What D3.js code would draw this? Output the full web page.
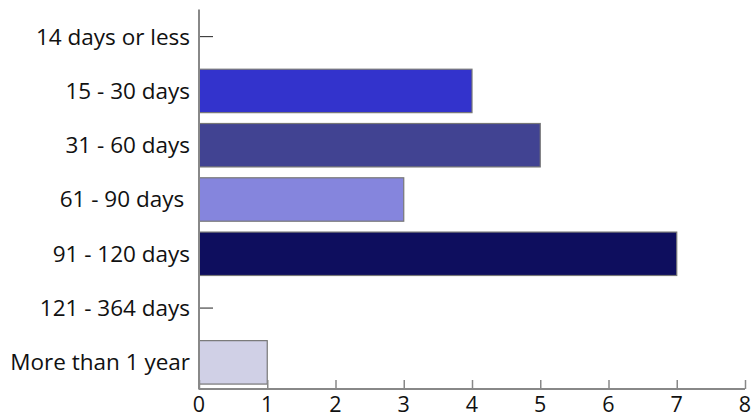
<!DOCTYPE html>
<html><head><meta charset="utf-8">
<script src="https://cdn.jsdelivr.net/npm/d3@7"></script>
<style>body{margin:0;background:#fff}svg{display:block}</style>
</head><body><svg id="c" width="754" height="418"></svg>
<script>
const categories = ["14 days or less","15 - 30 days","31 - 60 days","61 - 90 days ","91 - 120 days","121 - 364 days","More than 1 year"];
const values = [0,4,5,3,7,0,1];
const colors = ["#3333cc","#3333cc","#414392","#8585dd","#0e0e5e","#8585dd","#d0d0e6"];
const xTicks = [0,1,2,3,4,5,6,7,8];

const svg = d3.select("#c");
const x = d3.scaleLinear().domain([0,8]).range([199,745]);
const y = d3.scaleBand().domain(categories).range([9.5,389.5]).paddingInner(0.2).paddingOuter(0.1);

const font = "'Open Sans', sans-serif";
const fs = 22.5;

// y axis ticks (behind bars)
const ya = svg.append("g").attr("transform", `translate(${x(0)},0)`)
  .call(d3.axisRight(y).tickSize(14).tickFormat(""));
ya.select(".domain").remove();
ya.selectAll(".tick line").attr("stroke","#222").attr("stroke-width",1);
ya.selectAll(".tick text").remove();

svg.selectAll("rect.bar").data(categories).join("rect")
  .attr("class","bar")
  .attr("x", x(0))
  .attr("y", d => y(d))
  .attr("width", (d,i) => x(values[i]) - x(0))
  .attr("height", y.bandwidth())
  .attr("fill", (d,i) => colors[i])
  .attr("stroke", "#777")
  .attr("stroke-width", 1.2)
  .attr("display", (d,i) => values[i] > 0 ? null : "none");

// y axis line
svg.append("path").attr("stroke","#888").attr("stroke-width",2).attr("fill","none")
  .attr("d", `M${x(0)},${y.range()[0]}V${y.range()[1]}`);

svg.selectAll("text.cat").data(categories).join("text")
  .attr("class","cat")
  .attr("x", 190)
  .attr("y", d => y(d) + y.bandwidth()/2)
  .attr("dy","0.35em")
  .attr("text-anchor","end")
  .style("white-space","pre")
  .attr("font-family", font)
  .attr("font-size", fs)
  .attr("fill","#111")
  .text(d => d);

// x axis
const xa = svg.append("g").attr("transform", `translate(0,389)`)
  .call(d3.axisTop(x).tickValues(xTicks).tickSize(9).tickFormat(""));
xa.select(".domain").attr("stroke","#888").attr("stroke-width",2).attr("d", `M${x(0)},0H${x(8)}`);
xa.selectAll(".tick line").attr("stroke","#888").attr("stroke-width",1.5);

svg.selectAll("text.xt").data(xTicks).join("text")
  .attr("class","xt")
  .attr("x", d => x(d))
  .attr("y", 412)
  .attr("text-anchor","middle")
  .attr("font-family", font)
  .attr("font-size", 21.5)
  .attr("fill","#111")
  .text(d => d);
</script></body></html>
